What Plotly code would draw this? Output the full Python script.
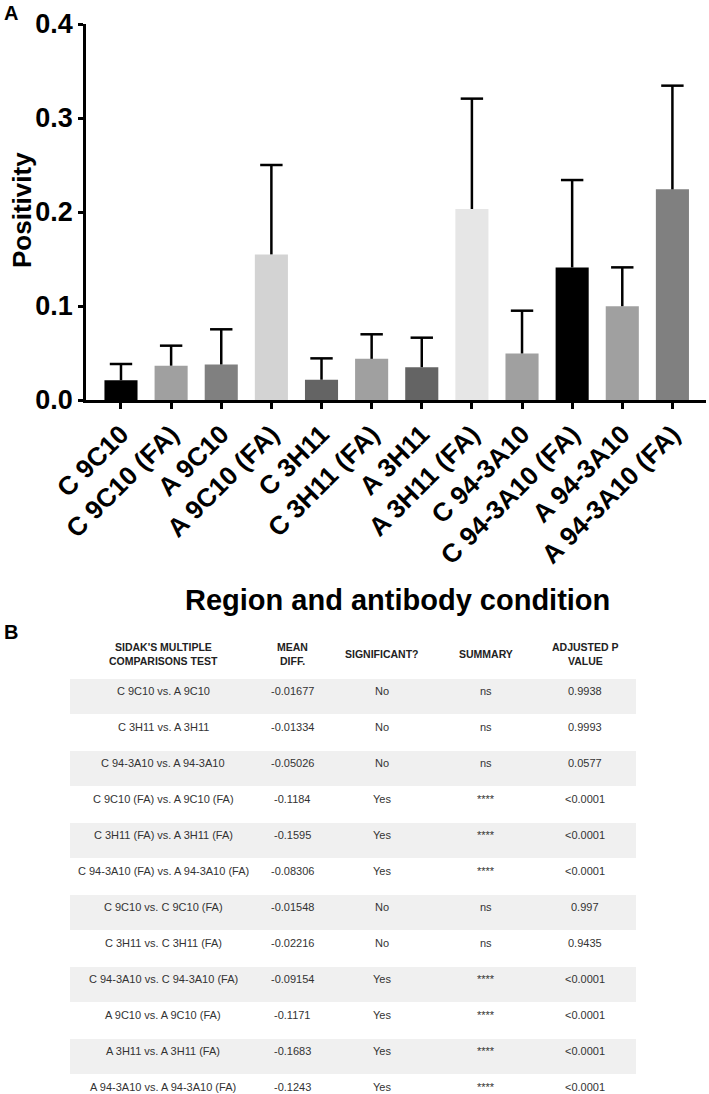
import plotly.graph_objects as go

# ---------------- data ----------------
categories = ["C 9C10", "C 9C10 (FA)", "A 9C10", "A 9C10 (FA)",
              "C 3H11", "C 3H11 (FA)", "A 3H11", "A 3H11 (FA)",
              "C 94-3A10", "C 94-3A10 (FA)", "A 94-3A10", "A 94-3A10 (FA)"]
means = [0.0210, 0.0365, 0.0378, 0.1549, 0.0216, 0.0438, 0.0349, 0.2032,
         0.0495, 0.1410, 0.0998, 0.2241]
sds = [0.0173, 0.0213, 0.0374, 0.0951, 0.0227, 0.0261, 0.0314, 0.1174,
       0.0455, 0.0930, 0.0413, 0.1103]
bar_colors = ["#000000", "#a0a0a0", "#808080", "#d3d3d3",
              "#646464", "#a0a0a0", "#646464", "#e6e6e6",
              "#a0a0a0", "#000000", "#a0a0a0", "#808080"]
y_ticks = [0.0, 0.1, 0.2, 0.3, 0.4]

table_header = [["SIDAK'S MULTIPLE", "COMPARISONS TEST"], ["MEAN", "DIFF."],
                ["SIGNIFICANT?"], ["SUMMARY"], ["ADJUSTED P", "VALUE"]]
comparisons = ["C 9C10 vs. A 9C10", "C 3H11 vs. A 3H11", "C 94-3A10 vs. A 94-3A10",
               "C 9C10 (FA) vs. A 9C10 (FA)", "C 3H11 (FA) vs. A 3H11 (FA)",
               "C 94-3A10 (FA) vs. A 94-3A10 (FA)", "C 9C10 vs. C 9C10 (FA)",
               "C 3H11 vs. C 3H11 (FA)", "C 94-3A10 vs. C 94-3A10 (FA)",
               "A 9C10 vs. A 9C10 (FA)", "A 3H11 vs. A 3H11 (FA)",
               "A 94-3A10 vs. A 94-3A10 (FA)"]
mean_diff = ["-0.01677", "-0.01334", "-0.05026", "-0.1184", "-0.1595", "-0.08306",
             "-0.01548", "-0.02216", "-0.09154", "-0.1171", "-0.1683", "-0.1243"]
significant = ["No", "No", "No", "Yes", "Yes", "Yes", "No", "No", "Yes", "Yes", "Yes", "Yes"]
summary = ["ns", "ns", "ns", "****", "****", "****", "ns", "ns", "****", "****", "****", "****"]
p_values = ["0.9938", "0.9993", "0.0577", "<0.0001", "<0.0001", "<0.0001",
            "0.997", "0.9435", "<0.0001", "<0.0001", "<0.0001", "<0.0001"]

# ---------------- layout helpers ----------------
W, H = 709, 1094
FONT = "Liberation Sans, Arial, Helvetica, sans-serif"


def px(x):
    return x / W


def py(y):
    return 1 - y / H


fig = go.Figure()

fig.add_trace(go.Bar(
    x=categories, y=means,
    marker=dict(color=bar_colors, line=dict(width=0)),
    width=0.66,
    error_y=dict(type="data", symmetric=False, array=sds,
                 arrayminus=[0] * len(sds), width=0, thickness=2.5,
                 color="black"),
    showlegend=False, hoverinfo="x+y",
))
# caps of the error bars
fig.add_trace(go.Scatter(
    x=categories, y=[m + s for m, s in zip(means, sds)],
    mode="markers",
    marker=dict(symbol="line-ew", size=16, color="black",
                line=dict(width=2.5, color="black")),
    showlegend=False, hoverinfo="skip",
))

fig.update_layout(
    width=W, height=H,
    margin=dict(l=0, r=0, t=0, b=0),
    paper_bgcolor="white", plot_bgcolor="white",
    font=dict(family=FONT, color="black"),
    xaxis=dict(
        domain=[px(86), px(706)],
        range=[-0.698, 11.67],
        showline=True, linewidth=2.5, linecolor="black",
        ticks="outside", ticklen=6, tickwidth=2.5, tickcolor="black",
        tickangle=-45,
        tickfont=dict(family=FONT, size=26, color="black", weight="bold"),
        showgrid=False, zeroline=False, automargin=False,
    ),
    yaxis=dict(
        domain=[py(400), py(24)],
        range=[0, 0.4],
        tickvals=y_ticks, tickformat=".1f",
        showline=True, linewidth=2.5, linecolor="black",
        ticks="outside", ticklen=5, tickwidth=2.5, tickcolor="black",
        tickfont=dict(family=FONT, size=27, color="black", weight="bold"),
        showgrid=False, zeroline=False, automargin=False,
    ),
)

ann = []
# panel letters
ann.append(dict(text="<b>A</b>", x=px(2), y=py(13), xanchor="left", yanchor="middle",
                font=dict(size=20, family=FONT, color="black")))
ann.append(dict(text="<b>B</b>", x=px(2), y=py(632), xanchor="left", yanchor="middle",
                font=dict(size=20, family=FONT, color="black")))
# axis titles
ann.append(dict(text="<b>Positivity</b>", x=px(22), y=py(210), textangle=-90,
                xanchor="center", yanchor="middle",
                font=dict(size=26, family=FONT, color="black")))
ann.append(dict(text="<b>Region and antibody condition</b>", x=px(397), y=py(600),
                xanchor="center", yanchor="middle",
                font=dict(size=29, family=FONT, color="black")))

# ---------------- table ----------------
col_x = [163, 292, 382, 485.5, 585]
row_top0, row_pitch, band_h = 679, 36, 35
shapes = []
for i in range(len(comparisons)):
    top = row_top0 + i * row_pitch
    if i % 2 == 0:
        shapes.append(dict(type="rect", xref="paper", yref="paper",
                           x0=px(70), x1=px(636), y0=py(top + band_h), y1=py(top),
                           fillcolor="#f0f0f0", line=dict(width=0), layer="below"))
    cells = [comparisons[i], mean_diff[i], significant[i], summary[i], p_values[i]]
    for cx, txt in zip(col_x, cells):
        ann.append(dict(text=txt, x=px(cx), y=py(top + 12), xanchor="center",
                        yanchor="middle",
                        font=dict(size=11, family=FONT, color="#333333")))

for cx, lines in zip(col_x, table_header):
    if len(lines) == 2:
        ys = [647, 661]
    else:
        ys = [654]
    for ly, t in zip(ys, lines):
        ann.append(dict(text="<b>" + t + "</b>", x=px(cx), y=py(ly), xanchor="center",
                        yanchor="middle",
                        font=dict(size=10.5, family=FONT, color="#222222")))

for a in ann:
    a.update(xref="paper", yref="paper", showarrow=False)

fig.update_layout(annotations=ann, shapes=shapes)

# remove the default page margin so the figure sits at the window's corner
fig.write_html("out.html",
               config={"displayModeBar": False},
               post_script="document.body.style.margin='0px';document.body.style.overflow='hidden';")
